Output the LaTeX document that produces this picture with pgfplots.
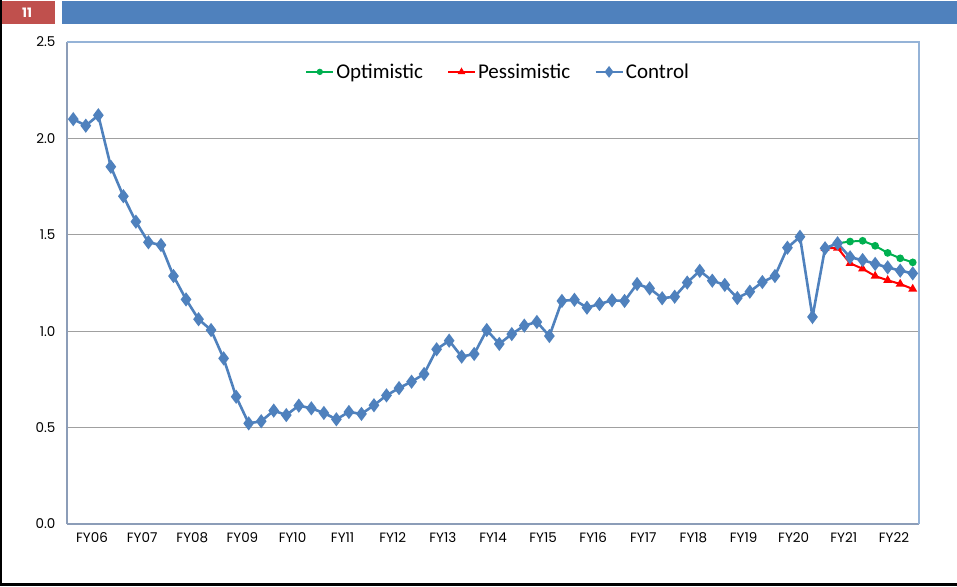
\documentclass[border=0pt]{standalone}
\usepackage{fontspec}
\setmainfont{Carlito}
\newfontfamily\tickfont{Poppins}
\usepackage{pgfplots}
\pgfplotsset{compat=1.18}
\definecolor{ctrlblue}{HTML}{4F81BD}
\definecolor{optgreen}{HTML}{00B050}
\definecolor{pessred}{HTML}{FF0000}
\definecolor{slidered}{HTML}{C0504D}
\definecolor{gridgray}{HTML}{A0A0A0}
\definecolor{axisgray}{HTML}{8C9DB8}
\definecolor{borderblue}{HTML}{95B3D7}

\begin{document}
\begin{tikzpicture}[x=1pt,y=1pt]
  \useasboundingbox (0,0) rectangle (957,586);
  % slide frame
  \fill[black] (0,0) rectangle (2,586);
  \fill[black] (0,0) rectangle (957,3);
  \fill[slidered] (2,562) rectangle (55,585);
  \fill[ctrlblue] (62,562) rectangle (957,585);
  \node[text=white, font=\tickfont\bfseries\fontsize{13}{15}\selectfont] at (27,573.5) {11};

  \begin{axis}[
    scale only axis,
    width=852pt, height=482pt,
    at={(67pt,62pt)}, anchor=south west,
    xmin=-0.5, xmax=67.5,
    ymin=0, ymax=2.5,
    ytick={0,0.5,...,2.5},
    xtick={1.5,5.5,...,65.5},
    xticklabels={FY06,FY07,FY08,FY09,FY10,FY11,FY12,FY13,FY14,FY15,FY16,FY17,FY18,FY19,FY20,FY21,FY22},
    /pgf/number format/.cd, fixed, fixed zerofill, precision=1, assume math mode=true, /pgfplots/.cd,
    ticklabel style={font=\tickfont\fontsize{13.5}{15}\selectfont},
    xticklabel style={yshift=-5pt},
    yticklabel style={xshift=-8pt},
    major tick length=0pt,
    axis lines=left,
    axis line style={-, color=axisgray, line width=1.2pt},
    ymajorgrids=true,
    grid style={color=gridgray, line width=0.9pt},
    clip=false,
    legend columns=3,
    legend style={draw=none, fill=none, at={(0.506,0.938)}, anchor=center,
      font=\fontsize{21}{24}\selectfont,
      /tikz/every even column/.append style={column sep=22pt}},
    legend cell align=left,
    legend image code/.code={%
      \draw[mark repeat=2,mark phase=2,mark size=0.75*\pgfplotmarksize] plot coordinates {(0pt,0pt) (13.5pt,0pt) (27pt,0pt)};},
  ]
    \draw[borderblue, line width=1.2pt] (rel axis cs:0,1) -- (rel axis cs:1,1) -- (rel axis cs:1,0);

    \addplot[optgreen, line width=2pt, mark=*, mark size=2.8pt] coordinates {
      (61,1.456) (62,1.465) (63,1.469) (64,1.443) (65,1.406) (66,1.378) (67,1.357)
    };
    \addlegendentry{Optimistic}

    \addplot[pessred, line width=2pt, mark=triangle*, mark size=3.2pt] coordinates {
      (60,1.430) (61,1.432) (62,1.352) (63,1.324) (64,1.286) (65,1.264) (66,1.245) (67,1.219)
    };
    \addlegendentry{Pessimistic}

    \addplot[ctrlblue, line width=2.6pt, mark=diamond*, mark size=5pt] coordinates {
      (0,2.100) (1,2.066) (2,2.120) (3,1.853) (4,1.700) (5,1.568) (6,1.461) (7,1.447)
      (8,1.286) (9,1.165) (10,1.062) (11,1.006) (12,0.859) (13,0.660) (14,0.522) (15,0.533)
      (16,0.588) (17,0.565) (18,0.614) (19,0.600) (20,0.576) (21,0.543) (22,0.581) (23,0.571)
      (24,0.616) (25,0.667) (26,0.705) (27,0.738) (28,0.778) (29,0.906) (30,0.951) (31,0.868)
      (32,0.882) (33,1.006) (34,0.934) (35,0.985) (36,1.029) (37,1.048) (38,0.975) (39,1.157)
      (40,1.163) (41,1.122) (42,1.141) (43,1.160) (44,1.157) (45,1.245) (46,1.222) (47,1.171)
      (48,1.179) (49,1.252) (50,1.313) (51,1.262) (52,1.240) (53,1.172) (54,1.205) (55,1.255)
      (56,1.286) (57,1.433) (58,1.490) (59,1.074) (60,1.430) (61,1.456) (62,1.383) (63,1.369)
      (64,1.349) (65,1.331) (66,1.314) (67,1.300)
    };
    \addlegendentry{Control}
  \end{axis}
\end{tikzpicture}
\end{document}
